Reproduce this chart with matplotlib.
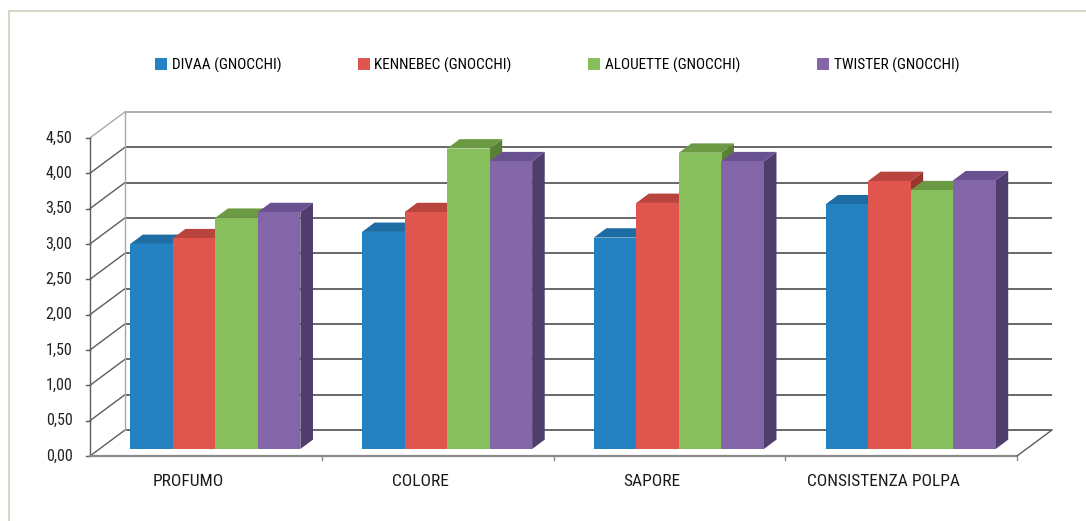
import matplotlib
matplotlib.use("Agg")
import matplotlib.pyplot as plt
from matplotlib.patches import Polygon, Rectangle
from matplotlib import font_manager

# ---- data ----
categories = ["PROFUMO", "COLORE", "SAPORE", "CONSISTENZA POLPA"]
series_names = ["DIVAA (GNOCCHI)", "KENNEBEC (GNOCCHI)", "ALOUETTE (GNOCCHI)", "TWISTER (GNOCCHI)"]
divaa = [2.90, 3.07, 2.99, 3.46]
kennebec = [2.98, 3.35, 3.48, 3.79]
alouette = [3.27, 4.25, 4.19, 3.66]
twister = [3.35, 4.07, 4.07, 3.80]
y_ticks = [0.0, 0.5, 1.0, 1.5, 2.0, 2.5, 3.0, 3.5, 4.0, 4.5]

series = [divaa, kennebec, alouette, twister]
front_cols = ["#2481c2", "#e0564f", "#87bf5c", "#8366a8"]
top_cols = ["#1d6ca4", "#b9433d", "#6c9a44", "#6a5191"]
side_cols = ["#185a88", "#9a3530", "#5a8038", "#4f3d6e"]

# ---- font ----
def pick_font():
    for fam in ["Liberation Sans Narrow", "Roboto Condensed", "Open Sans Condensed"]:
        try:
            font_manager.findfont(font_manager.FontProperties(family=fam),
                                  fallback_to_default=False)
            return fam
        except Exception:
            pass
    return "DejaVu Sans"

FONT = pick_font()
plt.rcParams["font.family"] = [FONT, "DejaVu Sans"]

W, H = 1086, 521
fig = plt.figure(figsize=(W / 100, H / 100), dpi=100)
ax = fig.add_axes([0, 0, 1, 1])

# pixel scale of one category and one value unit
PX_X = 231.75
PX_Y = 70.7
X0, Y0 = 90, 456
ax.set_xlim(-X0 / PX_X, (W - X0) / PX_X)
ax.set_ylim((Y0 - H) / PX_Y, Y0 / PX_Y)
ax.axis("off")

# oblique depth direction (full wall depth)
DX = 35 / PX_X
DY = 26 / PX_Y
ncat = len(categories)
ymax = y_ticks[-1]

grid_c = "#5c5c5c"
lw = 1.3

# back wall grid + diagonals to the front axis
for v in y_ticks:
    c = "#a8a8a8" if v == ymax else grid_c
    ax.plot([DX, ncat + DX], [v + DY, v + DY], color=c, lw=lw, zorder=1,
            solid_capstyle="butt")
    ax.plot([0, DX], [v, v + DY], color=c, lw=1.0, zorder=1)
    ax.plot([-0.018, 0], [v, v], color=grid_c, lw=1.0, zorder=1)
    ax.text(-0.076, v, f"{v:.2f}".replace(".", ","), ha="right", va="center",
            fontsize=11.5, color="#222222")
ax.plot([DX, DX], [DY, ymax + DY], color="#a8a8a8", lw=1.0, zorder=1)
ax.plot([0, 0], [0, ymax], color=grid_c, lw=1.0, zorder=1)

# floor
ax.plot([0, ncat], [0, 0], color="#8a8a8a", lw=1.6, zorder=1)
ax.plot([ncat, ncat + DX], [0, DY], color=grid_c, lw=1.0, zorder=1)
for k in range(1, ncat + 1):
    ax.plot([k, k], [0, -0.06], color="#8a8a8a", lw=1.0, zorder=1)

# bars
gap = 0.133
bw = (1 - 2 * gap) / len(series)
f = 0.27          # depth of the bar front plane
b = 0.36          # bar depth
bx, by = b * DX, b * DY
z = 2
for i in range(ncat):
    for j, s in enumerate(series):
        v = s[i]
        x = i + gap + j * bw + f * DX
        y0 = f * DY
        top = y0 + v
        ax.add_patch(Polygon([(x + bw, y0), (x + bw + bx, y0 + by),
                              (x + bw + bx, top + by), (x + bw, top)],
                             closed=True, facecolor=side_cols[j], edgecolor="none", zorder=z))
        ax.add_patch(Polygon([(x, top), (x + bw, top), (x + bw + bx, top + by),
                              (x + bx, top + by)],
                             closed=True, facecolor=top_cols[j], edgecolor="none", zorder=z))
        ax.bar(x, v, width=bw, bottom=y0, align="edge", color=front_cols[j],
               edgecolor="none", zorder=z + 0.5)
        z += 1

# category labels
for i, name in enumerate(categories):
    ax.text(i + 0.5 - 0.075, -0.354, name, ha="center", va="center",
            fontsize=12.5, color="#1a1a1a")

# legend
handles = [Rectangle((0, 0), 1, 1, facecolor=c, edgecolor="none") for c in front_cols]
fig.legend(handles, series_names, loc="center", ncol=4,
           bbox_to_anchor=(557 / W, 1 - 65 / H), frameon=False,
           fontsize=11, handlelength=0.8, handleheight=0.8,
           handletextpad=0.3, columnspacing=5.0)

# outer frame (left and top edges)
fig.add_artist(plt.Line2D([9 / W, 9 / W], [0, 1 - 11 / H], transform=fig.transFigure,
                          color="#d9d5c9", lw=1.5))
fig.add_artist(plt.Line2D([9 / W, 1], [1 - 11 / H, 1 - 11 / H], transform=fig.transFigure,
                          color="#d9d5c9", lw=1.5))

fig.savefig("out.png", dpi=100, facecolor="white")
